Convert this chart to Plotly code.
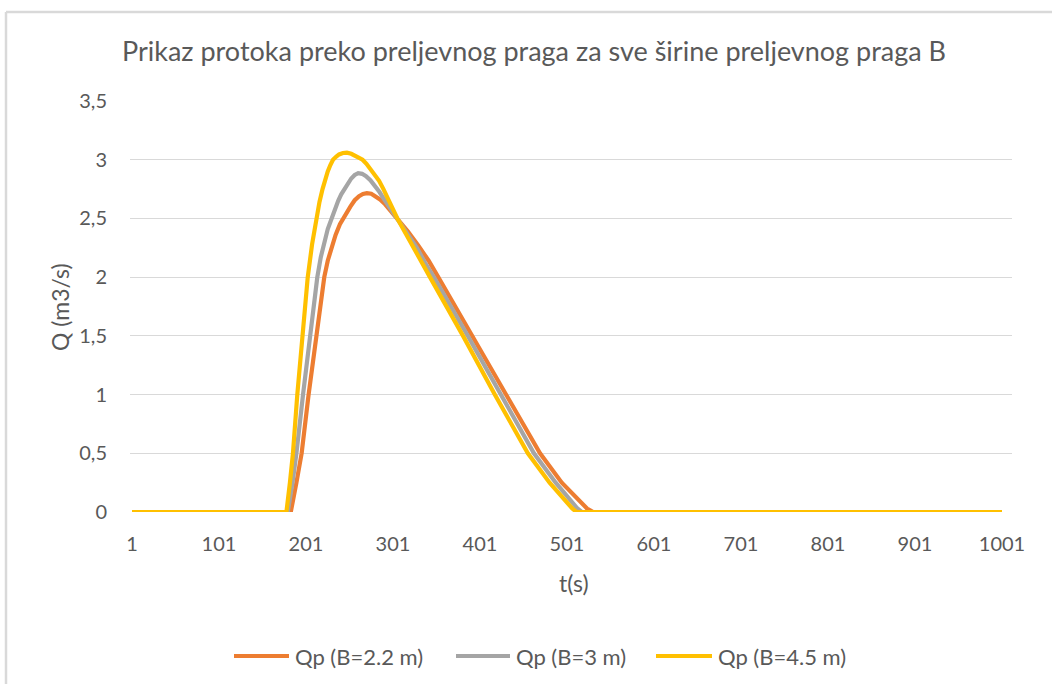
import plotly.graph_objects as go

# ---- data ----
series_names = ["Qp (B=2.2 m)", "Qp (B=3 m)", "Qp (B=4.5 m)"]
series_colors = ["#ED7D31", "#A5A5A5", "#FFC000"]

t_b22 = [1, 183.5, 190, 196, 204, 213, 222, 226, 230, 235, 240, 246, 252, 257, 262, 266.5,
         271, 276, 281, 286.5, 292, 298.5, 305, 318, 330, 342, 353, 392, 431.6, 470, 495,
         515, 524, 531, 1001]
q_b22 = [0, 0, 0.25, 0.5, 1.0, 1.5, 2.0, 2.14, 2.25, 2.36, 2.45, 2.53, 2.6, 2.655, 2.69, 2.708,
         2.715, 2.71, 2.69, 2.66, 2.62, 2.565, 2.5, 2.39, 2.27, 2.14, 2.0, 1.5, 1.0, 0.5, 0.25,
         0.1, 0.03, 0, 0]

t_b3 = [1, 180, 185.5, 190, 197.6, 205.6, 214, 218, 222, 226, 230.5, 234, 238, 241.5, 245, 249,
        253, 257, 261, 265.5, 270, 275, 280, 285.5, 291, 298, 305, 317, 328.5, 338, 348, 387,
        425, 463, 488, 505, 513, 518, 1001]
q_b3 = [0, 0, 0.25, 0.5, 1.0, 1.5, 2.0, 2.17, 2.3, 2.41, 2.5, 2.58, 2.65, 2.705, 2.75, 2.8,
        2.84, 2.87, 2.885, 2.88, 2.86, 2.825, 2.78, 2.725, 2.66, 2.585, 2.5, 2.38, 2.25, 2.12,
        2.0, 1.5, 1.0, 0.5, 0.25, 0.1, 0.03, 0, 0]

t_b45 = [1, 178.5, 182.5, 186, 191, 197, 203, 208, 213, 216.5, 220, 223, 226, 229, 232, 235.5,
         239, 243.5, 248, 253, 258, 262, 266, 270.5, 275, 280, 285, 290, 295, 300.5, 306, 343.5,
         381.5, 418, 456, 481, 498, 507, 512, 1001]
q_b45 = [0, 0, 0.25, 0.5, 1.0, 1.5, 2.0, 2.28, 2.5, 2.64, 2.75, 2.83, 2.9, 2.955, 3.0, 3.025,
         3.045, 3.057, 3.06, 3.05, 3.03, 3.015, 3.0, 2.965, 2.92, 2.875, 2.82, 2.75, 2.67, 2.585,
         2.5, 2.0, 1.5, 1.0, 0.5, 0.25, 0.1, 0.03, 0, 0]

x_tick_vals = [1, 101, 201, 301, 401, 501, 601, 701, 801, 901, 1001]
y_tick_vals = [0, 0.5, 1, 1.5, 2, 2.5, 3, 3.5]
y_tick_text = ["0", "0,5", "1", "1,5", "2", "2,5", "3", "3,5"]

title_text = "Prikaz protoka preko preljevnog praga za sve širine preljevnog praga B"
x_title = "t(s)"
y_title = "Q (m3/s)"

# ---- figure ----
FONT = "Lato"
TXT = "#595959"
GRID = "#D9D9D9"

W, H = 1052, 684
L, R, T, B = 130, 40, 101, 172
pw, ph = W - L - R, H - T - B


def px_to_paper_x(px):
    return (px - L) / pw


def py_to_paper_y(py):
    return (H - B - py) / ph


fig = go.Figure()
for name, color, tx, qy in zip(series_names, series_colors,
                               [t_b22, t_b3, t_b45], [q_b22, q_b3, q_b45]):
    fig.add_trace(go.Scatter(x=tx, y=qy, mode="lines", name=name, showlegend=False,
                             line=dict(color=color, width=4.2)))

# custom legend (line sample + text) placed like the reference
legend_line_px = [(234, 289), (456, 510), (656, 712)]
legend_y = 656
shapes = []
annotations = []
for (x0, x1), name, color in zip(legend_line_px, series_names, series_colors):
    shapes.append(dict(type="line", xref="paper", yref="paper",
                       x0=px_to_paper_x(x0), x1=px_to_paper_x(x1),
                       y0=py_to_paper_y(legend_y), y1=py_to_paper_y(legend_y),
                       line=dict(color=color, width=4.2)))
    annotations.append(dict(text=name, xref="paper", yref="paper",
                            x=px_to_paper_x(x1 + 4), y=py_to_paper_y(legend_y),
                            xanchor="left", yanchor="middle", showarrow=False,
                            font=dict(family=FONT, size=22, color=TXT)))

# chart-area border (top and left edges visible)
shapes += [
    dict(type="line", xref="paper", yref="paper",
         x0=px_to_paper_x(6), x1=px_to_paper_x(1070),
         y0=py_to_paper_y(12), y1=py_to_paper_y(12),
         line=dict(color=GRID, width=2.5)),
    dict(type="line", xref="paper", yref="paper",
         x0=px_to_paper_x(6), x1=px_to_paper_x(6),
         y0=py_to_paper_y(12), y1=py_to_paper_y(700),
         line=dict(color=GRID, width=2.5)),
]

annotations += [
    dict(text=x_title, xref="paper", yref="paper",
         x=px_to_paper_x(574), y=py_to_paper_y(583),
         xanchor="center", yanchor="middle", showarrow=False,
         font=dict(family=FONT, size=23, color=TXT)),
    dict(text=y_title, xref="paper", yref="paper",
         x=px_to_paper_x(60), y=py_to_paper_y(307),
         xanchor="center", yanchor="middle", showarrow=False, textangle=-90,
         font=dict(family=FONT, size=23, color=TXT)),
]

fig.update_layout(
    width=W, height=H,
    margin=dict(l=L, r=R, t=T, b=B),
    paper_bgcolor="white", plot_bgcolor="white",
    font=dict(family=FONT, color=TXT, size=20),
    title=dict(text=title_text, x=534 / W, xref="container", xanchor="center",
               y=1 - 52 / H, yref="container", yanchor="middle",
               font=dict(family=FONT, size=27, color=TXT)),
    showlegend=False,
    xaxis=dict(range=[-1.3, 1012.5], tickmode="array", tickvals=x_tick_vals,
               showgrid=False, zeroline=False, showline=False,
               ticks="", ticklabelstandoff=18,
               tickfont=dict(family=FONT, size=20, color=TXT)),
    yaxis=dict(range=[0, 3.5], tickmode="array", tickvals=y_tick_vals,
               ticktext=y_tick_text, showgrid=True, gridcolor=GRID, gridwidth=1.3,
               zeroline=False, showline=False, ticks="", ticklabelstandoff=22,
               tickfont=dict(family=FONT, size=20, color=TXT)),
    annotations=annotations,
    shapes=shapes,
)

fig.write_html("out.html", config={"displayModeBar": False},
               post_script="document.body.style.margin='0px';")
